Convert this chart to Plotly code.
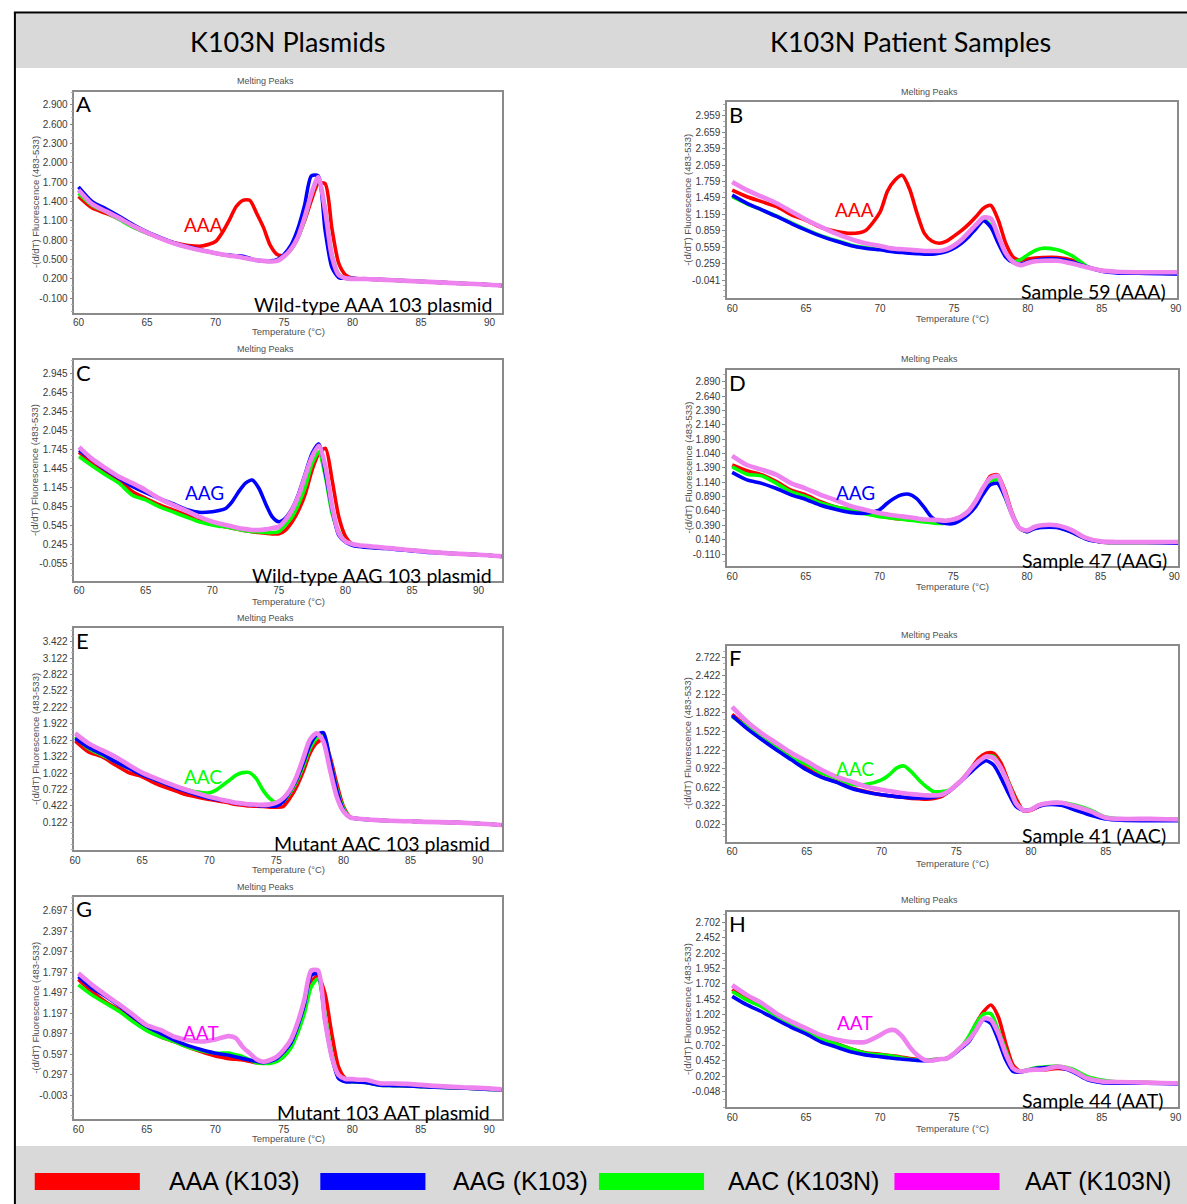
import plotly.graph_objects as go

W, H = 1187, 1204

# ---------------- data ----------------
temperature = [60, 61, 62, 63, 64, 65, 66, 67, 68, 69,
               70, 70.5, 71, 71.5, 72, 72.5, 73, 73.5, 74, 74.5,
               75, 75.5, 76, 76.5, 77, 77.5, 78, 78.5, 79, 79.5,
               80, 80.5, 81, 82, 83, 84, 85, 86, 88, 90, 92]

series_names = ["AAA (K103)", "AAG (K103)", "AAC (K103N)", "AAT (K103N)"]
series_colors = ["#ff0000", "#0000ff", "#00ff00", "#ee82ee"]
legend_colors = ["#ff0000", "#0000ff", "#00ff00", "#ff00ff"]

# Panel A - Wild-type AAA 103 plasmid
a_aaa = [1.48,1.30,1.22,1.13,1.01,0.91,0.83,0.76,0.72,0.71, 0.78,0.92,1.11,1.32,1.42,1.42,1.22,1.00,0.72,0.58, 0.56,0.66,0.84,1.10,1.42,1.68,1.68,0.98,0.44,0.26, 0.21,0.20,0.20,0.19,0.18,0.17,0.16,0.15,0.13,0.11,0.08]
a_aag = [1.63,1.40,1.29,1.17,1.04,0.93,0.84,0.76,0.70,0.65, 0.60,0.58,0.57,0.56,0.55,0.52,0.49,0.48,0.48,0.50, 0.58,0.72,0.97,1.34,1.80,1.80,0.96,0.38,0.22,0.21, 0.21,0.20,0.20,0.19,0.18,0.17,0.16,0.15,0.13,0.11,0.08]
a_aac = [1.53,1.34,1.24,1.12,1.00,0.91,0.83,0.75,0.69,0.64, 0.60,0.58,0.56,0.55,0.53,0.51,0.49,0.48,0.47,0.48, 0.55,0.65,0.83,1.12,1.50,1.76,1.30,0.58,0.27,0.21, 0.20,0.20,0.20,0.19,0.18,0.17,0.16,0.15,0.13,0.11,0.08]
a_aat = [1.58,1.36,1.25,1.14,1.02,0.92,0.83,0.75,0.69,0.64, 0.60,0.58,0.56,0.55,0.53,0.51,0.49,0.48,0.47,0.48, 0.55,0.66,0.84,1.15,1.52,1.78,1.27,0.55,0.26,0.21, 0.20,0.20,0.20,0.19,0.18,0.17,0.16,0.15,0.13,0.11,0.08]

# Panel B - Sample 59 (AAA)
b_aaa = [1.60,1.48,1.39,1.30,1.15,1.05,0.92,0.85,0.81,0.86, 1.20,1.58,1.78,1.87,1.62,1.18,0.81,0.67,0.63,0.67, 0.76,0.86,0.98,1.12,1.27,1.32,1.05,0.63,0.38,0.32, 0.34,0.36,0.37,0.37,0.32,0.20,0.13,0.10,0.09,0.08,0.08]
b_aag = [1.51,1.36,1.24,1.12,0.99,0.87,0.76,0.67,0.59,0.54, 0.51,0.49,0.47,0.46,0.45,0.44,0.43,0.43,0.45,0.48, 0.54,0.63,0.75,0.90,1.04,0.92,0.63,0.38,0.28,0.25, 0.29,0.32,0.34,0.34,0.29,0.20,0.12,0.09,0.08,0.07,0.07]
b_aac = [1.48,1.35,1.24,1.13,1.00,0.88,0.77,0.68,0.60,0.55, 0.52,0.50,0.48,0.47,0.46,0.45,0.44,0.44,0.46,0.49, 0.55,0.64,0.77,0.92,1.06,0.95,0.66,0.40,0.30,0.33, 0.42,0.50,0.54,0.51,0.40,0.21,0.13,0.10,0.09,0.08,0.08]
b_aat = [1.75,1.60,1.48,1.36,1.21,1.06,0.93,0.81,0.71,0.63, 0.58,0.55,0.53,0.52,0.51,0.50,0.49,0.49,0.49,0.52, 0.59,0.69,0.83,0.97,1.10,1.08,0.76,0.45,0.29,0.23, 0.27,0.30,0.31,0.31,0.26,0.19,0.13,0.11,0.10,0.10,0.10]

# Panel C - Wild-type AAG 103 plasmid
c_aaa = [1.70,1.52,1.39,1.26,1.08,0.97,0.87,0.79,0.71,0.63, 0.58,0.55,0.52,0.50,0.48,0.46,0.445,0.43,0.42,0.41, 0.41,0.47,0.60,0.79,1.05,1.42,1.68,1.76,1.26,0.68, 0.37,0.25,0.22,0.20,0.19,0.17,0.15,0.13,0.10,0.08,0.05]
c_aag = [1.73,1.58,1.42,1.29,1.16,1.06,0.97,0.89,0.80,0.75, 0.76,0.78,0.81,0.92,1.08,1.21,1.26,1.13,0.89,0.68, 0.60,0.66,0.81,1.05,1.37,1.68,1.83,1.37,0.79,0.39, 0.28,0.23,0.21,0.19,0.18,0.16,0.14,0.12,0.10,0.08,0.05]
c_aac = [1.63,1.48,1.34,1.21,1.02,0.945,0.84,0.76,0.68,0.60, 0.55,0.53,0.52,0.50,0.48,0.46,0.445,0.44,0.43,0.43, 0.445,0.55,0.68,0.89,1.16,1.52,1.70,1.31,0.73,0.445, 0.29,0.24,0.22,0.20,0.19,0.17,0.15,0.13,0.10,0.08,0.05]
c_aat = [1.78,1.59,1.445,1.31,1.21,1.10,0.97,0.87,0.78,0.68, 0.60,0.575,0.55,0.525,0.50,0.485,0.47,0.47,0.48,0.50, 0.52,0.63,0.79,1.02,1.34,1.63,1.80,1.47,0.84,0.42, 0.29,0.25,0.23,0.21,0.19,0.17,0.15,0.13,0.10,0.08,0.05]

# Panel D - Sample 47 (AAG)
d_aaa = [1.44,1.34,1.27,1.15,1.00,0.92,0.80,0.71,0.66,0.60, 0.55,0.53,0.51,0.50,0.49,0.48,0.47,0.47,0.47,0.47, 0.49,0.54,0.63,0.80,1.00,1.24,1.27,1.00,0.60,0.34, 0.28,0.34,0.36,0.36,0.28,0.16,0.10,0.09,0.09,0.09,0.09]
d_aag = [1.31,1.18,1.12,1.03,0.92,0.84,0.74,0.67,0.615,0.60, 0.66,0.77,0.86,0.92,0.93,0.86,0.71,0.54,0.45,0.42, 0.42,0.48,0.57,0.71,0.92,1.09,1.12,0.89,0.57,0.34, 0.28,0.33,0.35,0.35,0.27,0.15,0.10,0.09,0.09,0.08,0.08]
d_aac = [1.41,1.28,1.25,1.12,0.97,0.89,0.78,0.71,0.66,0.59, 0.54,0.525,0.51,0.495,0.48,0.465,0.45,0.435,0.42,0.43, 0.47,0.52,0.61,0.77,0.97,1.15,1.18,0.89,0.57,0.34, 0.28,0.34,0.36,0.36,0.28,0.16,0.10,0.09,0.09,0.09,0.09]
d_aat = [1.60,1.44,1.36,1.27,1.12,1.03,0.92,0.83,0.725,0.66, 0.60,0.58,0.56,0.545,0.53,0.51,0.49,0.485,0.48,0.47, 0.49,0.54,0.63,0.80,1.03,1.21,1.25,0.95,0.57,0.34, 0.30,0.36,0.39,0.39,0.31,0.17,0.11,0.10,0.10,0.10,0.10]

# Panel E - Mutant AAC 103 plasmid
e_aaa = [1.613,1.41,1.32,1.17,1.03,0.955,0.83,0.74,0.65,0.59, 0.54,0.52,0.50,0.475,0.45,0.435,0.42,0.415,0.41,0.40, 0.40,0.41,0.56,0.77,1.05,1.38,1.57,1.64,1.32,0.83, 0.41,0.22,0.19,0.17,0.155,0.145,0.14,0.13,0.12,0.10,0.07]
e_aag = [1.656,1.49,1.37,1.23,1.11,0.99,0.895,0.80,0.71,0.63, 0.56,0.54,0.52,0.495,0.47,0.455,0.44,0.43,0.42,0.42, 0.42,0.50,0.68,0.895,1.20,1.53,1.72,1.76,1.26,0.71, 0.35,0.21,0.19,0.17,0.155,0.145,0.14,0.13,0.12,0.10,0.07]
e_aac = [1.686,1.47,1.35,1.23,1.11,1.00,0.90,0.81,0.74,0.68, 0.66,0.71,0.80,0.89,0.985,1.03,1.03,0.92,0.71,0.56, 0.48,0.50,0.65,0.86,1.14,1.47,1.66,1.74,1.26,0.74, 0.38,0.21,0.19,0.17,0.155,0.145,0.14,0.13,0.12,0.10,0.07]
e_aat = [1.747,1.565,1.44,1.32,1.17,1.03,0.925,0.83,0.74,0.66, 0.59,0.56,0.53,0.505,0.48,0.465,0.45,0.445,0.44,0.45, 0.48,0.56,0.71,0.955,1.29,1.63,1.75,1.60,1.08,0.59, 0.32,0.21,0.19,0.17,0.155,0.145,0.14,0.13,0.12,0.10,0.07]

# Panel F - Sample 41 (AAC)
f_aaa = [1.80,1.60,1.41,1.25,1.09,0.93,0.79,0.71,0.61,0.55, 0.50,0.485,0.47,0.455,0.44,0.435,0.43,0.44,0.47,0.55, 0.66,0.78,0.93,1.09,1.17,1.17,1.01,0.71,0.44,0.24, 0.25,0.31,0.35,0.37,0.31,0.23,0.13,0.11,0.11,0.10,0.10]
f_aag = [1.78,1.57,1.39,1.22,1.06,0.90,0.78,0.70,0.60,0.54, 0.50,0.485,0.47,0.46,0.45,0.45,0.45,0.46,0.49,0.55, 0.65,0.76,0.87,0.98,1.05,0.98,0.77,0.52,0.31,0.25, 0.26,0.31,0.34,0.33,0.25,0.17,0.11,0.09,0.08,0.08,0.08]
f_aac = [1.76,1.60,1.41,1.25,1.09,0.99,0.85,0.77,0.67,0.67, 0.74,0.82,0.93,0.965,0.87,0.74,0.63,0.55,0.55,0.57, 0.66,0.77,0.92,1.04,1.12,1.12,0.93,0.69,0.38,0.25, 0.26,0.33,0.36,0.37,0.33,0.25,0.14,0.11,0.11,0.10,0.10]
f_aat = [1.92,1.68,1.49,1.33,1.17,1.04,0.90,0.79,0.71,0.63, 0.58,0.56,0.54,0.525,0.51,0.50,0.49,0.49,0.50,0.56, 0.66,0.77,0.92,1.04,1.12,1.09,0.93,0.66,0.36,0.25, 0.26,0.33,0.36,0.37,0.31,0.23,0.13,0.11,0.11,0.10,0.10]

# Panel G - Mutant 103 AAT plasmid
g_aaa = [1.69,1.51,1.36,1.24,1.10,0.95,0.85,0.78,0.70,0.63, 0.57,0.55,0.53,0.52,0.51,0.49,0.47,0.47,0.48,0.51, 0.58,0.70,0.92,1.24,1.66,1.74,1.49,0.90,0.41,0.24, 0.20,0.19,0.18,0.15,0.14,0.135,0.125,0.115,0.10,0.085,0.06]
g_aag = [1.73,1.56,1.44,1.30,1.14,1.00,0.90,0.80,0.72,0.66, 0.61,0.595,0.58,0.555,0.53,0.51,0.49,0.47,0.49,0.53, 0.63,0.75,1.00,1.32,1.75,1.77,1.10,0.56,0.24,0.19, 0.19,0.185,0.18,0.14,0.135,0.13,0.12,0.11,0.10,0.08,0.06]
g_aac = [1.61,1.46,1.34,1.22,1.07,0.94,0.85,0.78,0.70,0.645, 0.61,0.61,0.61,0.585,0.56,0.51,0.47,0.46,0.46,0.49, 0.56,0.68,0.90,1.19,1.58,1.70,1.19,0.61,0.27,0.20, 0.19,0.185,0.18,0.14,0.135,0.13,0.12,0.11,0.10,0.08,0.06]
g_aat = [1.78,1.61,1.46,1.32,1.17,1.02,0.95,0.85,0.80,0.78, 0.81,0.84,0.86,0.83,0.70,0.61,0.52,0.485,0.51,0.56, 0.66,0.80,1.05,1.39,1.82,1.82,1.10,0.56,0.29,0.23, 0.23,0.22,0.22,0.17,0.165,0.16,0.145,0.13,0.11,0.094,0.06]

# Panel H - Sample 44 (AAT)
h_aaa = [1.61,1.47,1.36,1.20,1.06,0.95,0.83,0.74,0.65,0.585, 0.56,0.545,0.53,0.51,0.49,0.48,0.47,0.47,0.48,0.49, 0.57,0.68,0.82,1.06,1.25,1.36,1.17,0.74,0.385,0.28, 0.30,0.30,0.30,0.33,0.30,0.17,0.12,0.10,0.10,0.09,0.09]
h_aag = [1.50,1.36,1.25,1.12,0.997,0.89,0.76,0.68,0.60,0.55, 0.52,0.505,0.49,0.48,0.47,0.46,0.455,0.46,0.48,0.49, 0.56,0.66,0.76,0.95,1.12,1.06,0.79,0.47,0.28,0.27, 0.30,0.33,0.34,0.35,0.28,0.15,0.10,0.09,0.09,0.08,0.08]
h_aac = [1.58,1.44,1.33,1.17,1.04,0.93,0.81,0.73,0.65,0.575, 0.55,0.54,0.525,0.50,0.48,0.47,0.47,0.47,0.48,0.49, 0.57,0.68,0.85,1.06,1.21,1.22,0.95,0.63,0.33,0.28, 0.31,0.34,0.35,0.37,0.32,0.20,0.14,0.11,0.10,0.09,0.09]
h_aat = [1.68,1.52,1.39,1.22,1.09,0.98,0.87,0.80,0.76,0.76, 0.87,0.94,0.95,0.85,0.68,0.55,0.47,0.455,0.48,0.49, 0.57,0.68,0.79,0.95,1.14,1.12,0.90,0.57,0.33,0.28, 0.30,0.31,0.31,0.36,0.30,0.17,0.12,0.11,0.10,0.09,0.09]

panel_series = [
    [a_aaa, a_aag, a_aac, a_aat],
    [b_aaa, b_aag, b_aac, b_aat],
    [c_aaa, c_aag, c_aac, c_aat],
    [d_aaa, d_aag, d_aac, d_aat],
    [e_aaa, e_aag, e_aac, e_aat],
    [f_aaa, f_aag, f_aac, f_aat],
    [g_aaa, g_aag, g_aac, g_aat],
    [h_aaa, h_aag, h_aac, h_aat],
]

panel_letters = ["A", "B", "C", "D", "E", "F", "G", "H"]
panel_captions = ["Wild-type AAA 103 plasmid", "Sample 59 (AAA)",
                  "Wild-type AAG 103 plasmid", "Sample 47 (AAG)",
                  "Mutant AAC 103 plasmid", "Sample 41 (AAC)",
                  "Mutant 103 AAT plasmid", "Sample 44 (AAT)"]
peak_labels = ["AAA", "AAA", "AAG", "AAG", "AAC", "AAC", "AAT", "AAT"]
peak_label_index = [0, 0, 1, 1, 2, 2, 3, 3]
column_titles = ["K103N Plasmids", "K103N Patient Samples"]

x_tick_values = [60, 65, 70, 75, 80, 85, 90]

y_tick_text = [
    ["2.900", "2.600", "2.300", "2.000", "1.700", "1.400", "1.100", "0.800", "0.500", "0.200", "-0.100"],
    ["2.959", "2.659", "2.359", "2.059", "1.759", "1.459", "1.159", "0.859", "0.559", "0.259", "-0.041"],
    ["2.945", "2.645", "2.345", "2.045", "1.745", "1.445", "1.145", "0.845", "0.545", "0.245", "-0.055"],
    ["2.890", "2.640", "2.390", "2.140", "1.890", "1.040", "1.390", "1.140", "0.890", "0.640", "0.390", "0.140", "-0.110"],
    ["3.422", "3.122", "2.822", "2.522", "2.222", "1.922", "1.622", "1.322", "1.022", "0.722", "0.422", "0.122"],
    ["2.722", "2.422", "2.122", "1.822", "1.522", "1.222", "0.922", "0.622", "0.322", "0.022"],
    ["2.697", "2.397", "2.097", "1.797", "1.497", "1.197", "0.897", "0.597", "0.297", "-0.003"],
    ["2.702", "2.452", "2.202", "1.952", "1.702", "1.452", "1.202", "0.952", "0.702", "0.452", "0.202", "-0.048"],
]
y_tick_values = [
    [float(t) for t in y_tick_text[0]],
    [float(t) for t in y_tick_text[1]],
    [float(t) for t in y_tick_text[2]],
    [2.890, 2.640, 2.390, 2.140, 1.890, 1.640, 1.390, 1.140, 0.890, 0.640, 0.390, 0.140, -0.110],
    [float(t) for t in y_tick_text[4]],
    [float(t) for t in y_tick_text[5]],
    [float(t) for t in y_tick_text[6]],
    [float(t) for t in y_tick_text[7]],
]
y_minor_step = [0.1, 0.1, 0.1, 0.125, 0.1, 0.1, 0.1, 0.125]

# ---------------- layout geometry (pixels) ----------------
boxes = [
    (70, 501, 91.7, 312.7, 59.7, 90.9, -0.324, 3.106),
    (728.3, 1182, 102.3, 298.3, 59.66, 90.09, -0.375, 3.204),
    (70, 501, 360, 580.7, 59.65, 91.74, -0.330, 3.155),
    (728.3, 1183.3, 370, 566, 59.66, 90.27, -0.319, 3.094),
    (70, 501, 628.3, 850, 59.95, 91.8, -0.384, 3.667),
    (728.3, 1183.3, 645.7, 841.7, 59.67, 89.86, -0.259, 2.910),
    (70, 501, 896.7, 1119.3, 59.71, 90.92, -0.359, 2.902),
    (728.3, 1183.3, 911.7, 1107.3, 59.66, 90.18, -0.301, 2.874),
]
melt_title_y = [80.7, 91.7, 349, 359, 618, 635, 887, 900]
temp_title_y = [332, 319, 601, 587, 869, 863, 1138, 1128]
caption_pos = [(493, 304), (1173, 291.5), (493, 575), (1174, 560.5),
               (491, 843), (1173, 835), (491, 1112.5), (1171, 1100.5)]
peak_label_pos = [(200, 224), (857, 210), (201, 493), (858, 492),
                  (199.5, 776), (857, 768), (198, 1032), (857, 1022)]


def px(x):
    return x / W


def py(y):
    return 1 - y / H


fig = go.Figure()
annotations = []
shapes = []

# background bands and frame
shapes.append(dict(type="rect", xref="paper", yref="paper", x0=px(11), x1=1.01, y0=py(68), y1=py(13.5),
                   fillcolor="#d9d9d9", line=dict(width=0), layer="below"))
shapes.append(dict(type="rect", xref="paper", yref="paper", x0=px(11), x1=1.01, y0=-0.01, y1=py(1146),
                   fillcolor="#d9d9d9", line=dict(width=0), layer="below"))
shapes.append(dict(type="line", xref="paper", yref="paper", x0=px(9), x1=1.01, y0=py(12.5), y1=py(12.5),
                   line=dict(color="#000000", width=2)))
shapes.append(dict(type="line", xref="paper", yref="paper", x0=px(10), x1=px(10), y0=py(12), y1=-0.01,
                   line=dict(color="#000000", width=2)))

small_font = "Liberation Sans, Arial, sans-serif"
big_font = "Lato, Open Sans, sans-serif"

for i, (series, box) in enumerate(zip(panel_series, boxes)):
    n = i + 1
    xa = "x" if n == 1 else f"x{n}"
    ya = "y" if n == 1 else f"y{n}"
    left, right, top, bottom, xmin, xmax, ymin, ymax = box
    order = [0, 2, 1, 3]
    for k in order:
        fig.add_trace(go.Scatter(
            x=temperature, y=series[k], mode="lines", name=series_names[k],
            line=dict(color=series_colors[k], width=4.6 if k == 3 else 3.6, shape="spline", smoothing=0.7),
            xaxis=xa, yaxis=ya, showlegend=False, hoverinfo="skip"))
    axis_font = dict(family=small_font, size=10, color="#3a3a3a")
    fig.layout[f"xaxis{'' if n == 1 else n}"] = dict(
        domain=[px(left), px(right)], range=[xmin, xmax], anchor=ya,
        showgrid=False, zeroline=False, showline=True, mirror=True,
        linecolor="#8a8a8a", linewidth=1.5, ticks="", tickvals=x_tick_values,
        tickfont=axis_font, fixedrange=True)
    fig.layout[f"yaxis{'' if n == 1 else n}"] = dict(
        domain=[py(bottom), py(top)], range=[ymin, ymax], anchor=xa,
        showgrid=False, zeroline=False, showline=True, mirror=True,
        linecolor="#8a8a8a", linewidth=1.5, ticks="outside", ticklen=3, tickcolor="#8a8a8a",
        tickvals=y_tick_values[i], ticktext=y_tick_text[i], tickfont=axis_font,
        minor=dict(ticks="outside", ticklen=2, tickcolor="#b0b0b0",
                   tick0=y_tick_values[i][-1], dtick=y_minor_step[i]),
        fixedrange=True)

    cx = (left + right) / 2
    cy = (top + bottom) / 2
    annotations.append(dict(text="Melting Peaks", x=px(cx - 23), y=py(melt_title_y[i]), xref="paper", yref="paper",
                            xanchor="center", yanchor="middle", showarrow=False,
                            font=dict(family=small_font, size=9, color="#505050")))
    annotations.append(dict(text="Temperature (°C)", x=px(cx), y=py(temp_title_y[i]), xref="paper", yref="paper",
                            xanchor="center", yanchor="middle", showarrow=False,
                            font=dict(family=small_font, size=9.5, color="#505050")))
    annotations.append(dict(text="-(d/dT) Fluorescence (483-533)", x=px(left - 40), y=py(cy), xref="paper",
                            yref="paper", xanchor="center", yanchor="middle", textangle=-90, showarrow=False,
                            font=dict(family=small_font, size=9.5, color="#505050")))
    annotations.append(dict(text=panel_letters[i], x=px(left), y=py(top + 12), xref="paper", yref="paper",
                            xanchor="left", yanchor="middle", showarrow=False,
                            font=dict(family=big_font, size=22, color="#000000")))
    cxp, cyp = caption_pos[i]
    annotations.append(dict(text=panel_captions[i], x=px(cxp), y=py(cyp), xref="paper", yref="paper",
                            xanchor="right", yanchor="middle", showarrow=False,
                            font=dict(family=big_font, size=19.5, color="#000000")))
    lx, ly = peak_label_pos[i]
    annotations.append(dict(text=peak_labels[i], x=px(lx), y=py(ly), xref="paper", yref="paper",
                            xanchor="center", yanchor="middle", showarrow=False,
                            font=dict(family=big_font, size=19,
                                      color=legend_colors[peak_label_index[i]])))

for title, cx in zip(column_titles, [285, 913]):
    annotations.append(dict(text=title, x=px(cx), y=py(41), xref="paper", yref="paper",
                            xanchor="center", yanchor="middle", showarrow=False,
                            font=dict(family=big_font, size=27, color="#000000")))

# legend band
swatch_x0 = [30, 318, 599, 897]
text_x0 = [163, 450, 727, 1027]
for k in range(4):
    shapes.append(dict(type="rect", xref="paper", yref="paper", x0=px(swatch_x0[k]), x1=px(swatch_x0[k] + 106),
                       y0=py(1190), y1=py(1173), fillcolor=legend_colors[k], line=dict(width=0)))
    annotations.append(dict(text=series_names[k], x=px(text_x0[k]), y=py(1181), xref="paper", yref="paper",
                            xanchor="left", yanchor="middle", showarrow=False,
                            font=dict(family="Liberation Sans Narrow, Arial Narrow, Liberation Sans, sans-serif",
                                      size=25, color="#000000")))

fig.update_layout(width=W, height=H, margin=dict(l=0, r=0, t=0, b=0),
                  paper_bgcolor="#ffffff", plot_bgcolor="#ffffff",
                  annotations=annotations, shapes=shapes, showlegend=False)

fig.write_html("out.html", config={"displayModeBar": False},
               post_script="document.body.style.margin='0px';document.body.style.overflow='hidden';")
